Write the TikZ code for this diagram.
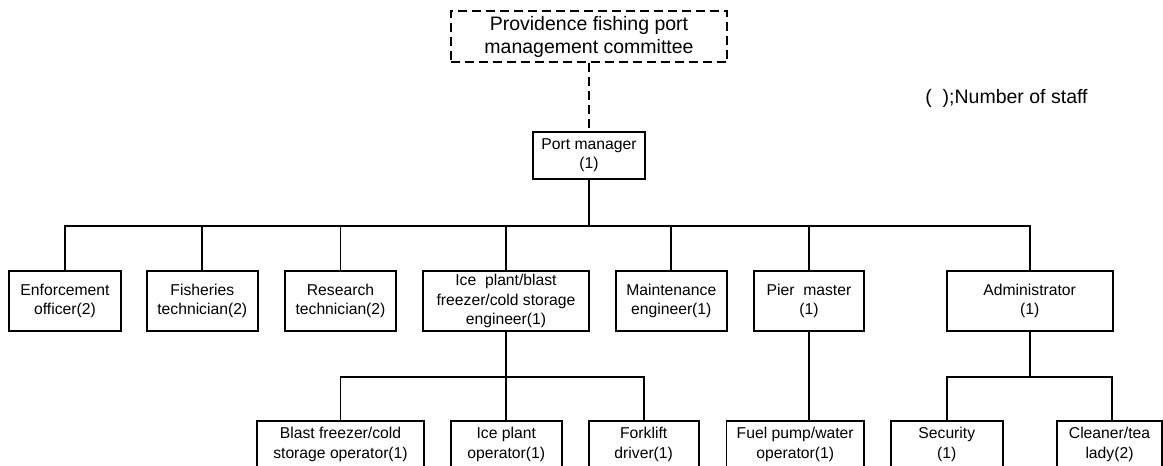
\documentclass[tikz,border=0pt]{standalone}
\usepackage{fontspec}
\setmainfont{Liberation Sans}

\begin{document}
\begin{tikzpicture}[x=1pt,y=-1pt,line width=1.9pt,
  post/.style={draw,align=center,inner sep=0pt,minimum height=59.7pt,font=\fontsize{15.7}{19.3}\selectfont},
  sub/.style={post,minimum height=47.3pt},
  cut/.style={dash pattern=on 9pt off 5pt},
  board/.style={draw,cut,align=center,inner sep=0pt,minimum width=276.6pt,minimum height=51.3pt,font=\fontsize{19.5}{23}\selectfont}]
  \clip (0,0) rectangle (1163,466);

  \node[board]                    (pc)    at (589,36.7)    {Providence fishing port\\management committee};
  \node[font=\fontsize{19.5}{23}\selectfont] (key) at (1006.5,98.3) {(\ \ );Number of staff};
  \node[sub,minimum width=111.7pt] (pm)   at (589,155.3)   {Port manager\\(1)};

  \node[post,minimum width=112pt]   (enf)   at (65,301.2)    {Enforcement\\officer(2)};
  \node[post,minimum width=110.7pt] (fish)  at (202.3,301.2) {Fisheries\\technician(2)};
  \node[post,minimum width=111pt]   (res)   at (340.5,301.2) {Research\\technician(2)};
  \node[post,minimum width=166pt]   (ice)   at (506,301.2)   {Ice\ \ plant/blast\\freezer/cold storage\\engineer(1)};
  \node[post,minimum width=111.3pt] (maint) at (671.3,301.2) {Maintenance\\engineer(1)};
  \node[post,minimum width=110.6pt] (pier)  at (809,301.2)   {Pier\ \ master\\(1)};
  \node[post,minimum width=166pt]   (admin) at (1029.7,301.2) {Administrator\\(1)};

  \node[sub,minimum width=166.4pt] (blast) at (340.5,444.3)  {Blast freezer/cold\\storage operator(1)};
  \node[sub,minimum width=111.3pt] (iceop) at (506.3,444.3)  {Ice plant\\operator(1)};
  \node[sub,minimum width=110pt]   (fork)  at (643.7,444.3)  {Forklift\\driver(1)};
  \node[sub,minimum width=137.5pt] (fuel)  at (795.2,444.3)  {Fuel pump/water\\operator(1)};
  \node[sub,minimum width=111.7pt] (sec)   at (946.8,444.3)  {Security\\(1)};
  \node[sub,minimum width=105pt]   (clean) at (1109.5,444.3) {Cleaner/tea\\lady(2)};

  \draw[cut] (pc) -- (pm);
  \foreach \n in {enf,fish,res,ice,maint,pier,admin}
    \draw (pm.south) -- ++(0,46) -| (\n.north);
  \foreach \n in {blast,iceop,fork}
    \draw (ice.south) -- ++(0,45.3) -| (\n.north);
  \draw (pier.south) -- (pier.south |- fuel.north);
  \draw (admin.south) -- ++(0,45.3) -| (sec.north);
  \draw (admin.south) -- ++(0,45.3) -| ([xshift=2.5pt]clean.north);
\end{tikzpicture}
\end{document}
